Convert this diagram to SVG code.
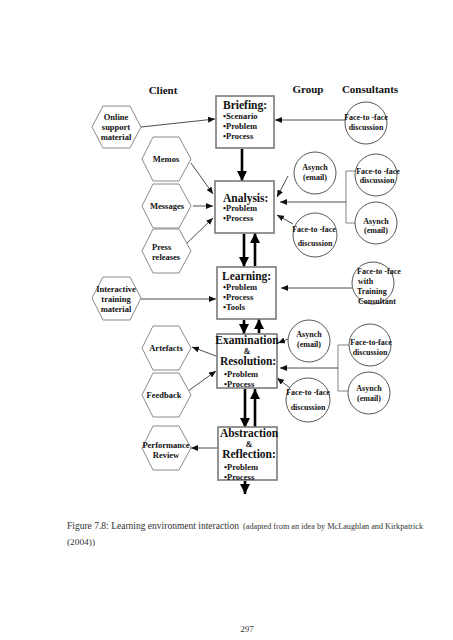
<svg xmlns="http://www.w3.org/2000/svg" width="453" height="640" viewBox="0 0 453 640">
<style>
.bg{fill:#fff}
.hex{fill:#fff;stroke:#8a8a8a;stroke-width:1}
.box{fill:#fff;stroke:#7a7a7a;stroke-width:1.6}
.cir{fill:#fff;stroke:#444;stroke-width:0.9}
.t{font-family:"Liberation Serif","Times New Roman",serif;font-weight:bold;fill:#111}
.h{font-size:11px}
.ht{font-size:8.5px}
.ct{font-size:8px}
.bt{font-size:11.5px}
.it{font-size:8.5px}
.amp{font-size:8px}
.mid{text-anchor:middle}
.thin{stroke:#222;stroke-width:0.8;fill:none}
.thick{stroke:#000;stroke-width:2.6;fill:none}
.br{stroke:#666;stroke-width:0.8;fill:none}
.cap{font-family:"Liberation Serif","Times New Roman",serif;fill:#333}
</style>
<defs>
<marker id="a" markerUnits="userSpaceOnUse" markerWidth="7" markerHeight="6" refX="7" refY="3" orient="auto"><path d="M0,0 L7,3 L0,6 z" fill="#111"/></marker>
<marker id="A" markerUnits="userSpaceOnUse" markerWidth="10" markerHeight="10" refX="10" refY="5" orient="auto"><path d="M0,0 L10,5 L0,10 z" fill="#000"/></marker>
</defs>
<rect class="bg" x="0" y="0" width="453" height="640"/>

<g id="headers">
<text class="t h mid" x="163" y="94">Client</text>
<text class="t h mid" x="308" y="93">Group</text>
<text class="t h mid" x="370" y="93">Consultants</text>
</g>

<g id="connectors">
<line class="thin" x1="141" y1="127" x2="215" y2="119" marker-end="url(#a)"/>
<line class="thin" x1="345" y1="120" x2="275" y2="120" marker-end="url(#a)"/>
<line class="thin" x1="191" y1="163" x2="213" y2="194" marker-end="url(#a)"/>
<line class="thin" x1="193" y1="206" x2="213" y2="206" marker-end="url(#a)"/>
<line class="thin" x1="186" y1="244" x2="213" y2="218" marker-end="url(#a)"/>
<line class="thin" x1="288" y1="176" x2="277" y2="197" marker-end="url(#a)"/>
<polyline class="br" points="356,171 346,171 346,223 355,223"/>
<line class="thin" x1="346" y1="202" x2="280" y2="202" marker-end="url(#a)"/>
<line class="thin" x1="293" y1="224" x2="277" y2="215" marker-end="url(#a)"/>
<line class="thin" x1="352" y1="288" x2="281" y2="288" marker-end="url(#a)"/>
<line class="thin" x1="141" y1="299" x2="216" y2="299" marker-end="url(#a)"/>
<line class="thin" x1="216" y1="356" x2="192" y2="347" marker-end="url(#a)"/>
<line class="thin" x1="188" y1="391" x2="216" y2="371" marker-end="url(#a)"/>
<line class="thin" x1="288" y1="339" x2="278" y2="343" marker-end="url(#a)"/>
<polyline class="br" points="349,345 338,345 338,391 348,391"/>
<line class="thin" x1="338" y1="368" x2="280" y2="368" marker-end="url(#a)"/>
<line class="thin" x1="290" y1="388" x2="277" y2="378" marker-end="url(#a)"/>
<line class="thin" x1="218" y1="448" x2="191" y2="448" marker-end="url(#a)"/>
<line class="thick" x1="242" y1="149" x2="242" y2="181" marker-end="url(#A)"/>
<line class="thick" x1="244" y1="234" x2="244" y2="267" marker-end="url(#A)"/>
<line class="thick" x1="255" y1="266" x2="255" y2="233" marker-end="url(#A)"/>
<line class="thick" x1="244" y1="320" x2="244" y2="334" marker-end="url(#A)"/>
<line class="thick" x1="259" y1="333" x2="259" y2="319" marker-end="url(#A)"/>
<line class="thick" x1="245" y1="389" x2="245" y2="428" marker-end="url(#A)"/>
<line class="thick" x1="255" y1="427" x2="255" y2="389" marker-end="url(#A)"/>
<line class="thick" x1="245" y1="481" x2="245" y2="494" marker-end="url(#A)"/>
</g>

<g id="online-support">
<polygon class="hex" points="92,127 103,106 130,106 141,127 130,148 103,148"/>
<text class="t ht mid" x="116" y="120">Online</text>
<text class="t ht mid" x="116" y="130">support</text>
<text class="t ht mid" x="116" y="140">material</text>
</g>
<g id="memos">
<polygon class="hex" points="142,159 153,137 179,137 191,159 179,181 153,181"/>
<text class="t ht mid" x="166" y="162">Memos</text>
</g>
<g id="messages">
<polygon class="hex" points="142,206 153,184 179,184 191,206 179,228 153,228"/>
<text class="t ht mid" x="167" y="209">Messages</text>
</g>
<g id="press-releases">
<polygon class="hex" points="142,251 153,229 179,229 191,251 179,273 153,273"/>
<text class="t ht" x="152" y="250">Press</text>
<text class="t ht" x="152" y="260">releases</text>
</g>
<g id="interactive-training">
<polygon class="hex" points="92,298 103,277 130,277 141,298 130,320 103,320"/>
<text class="t ht mid" x="116" y="292">Interactive</text>
<text class="t ht mid" x="116" y="302">training</text>
<text class="t ht mid" x="116" y="312">material</text>
</g>
<g id="artefacts">
<polygon class="hex" points="142,348 153,326 179,326 191,348 179,370 153,370"/>
<text class="t ht mid" x="166" y="351">Artefacts</text>
</g>
<g id="feedback">
<polygon class="hex" points="142,395 153,373 179,373 191,395 179,417 153,417"/>
<text class="t ht mid" x="164" y="398">Feedback</text>
</g>
<g id="performance-review">
<polygon class="hex" points="142,448 153,426 179,426 191,448 179,470 153,470"/>
<text class="t ht mid" x="166" y="448">Performance</text>
<text class="t ht mid" x="166" y="458">Review</text>
</g>

<g id="briefing">
<rect class="box" x="216" y="96" width="58" height="52"/>
<text class="t bt" x="223" y="109">Briefing:</text>
<text class="t it" x="223" y="119">•Scenario</text>
<text class="t it" x="223" y="129">•Problem</text>
<text class="t it" x="223" y="139">•Process</text>
</g>
<g id="analysis">
<rect class="box" x="215" y="181" width="59" height="52"/>
<text class="t bt" x="223" y="202">Analysis:</text>
<text class="t it" x="223" y="211">•Problem</text>
<text class="t it" x="223" y="221">•Process</text>
</g>
<g id="learning">
<rect class="box" x="217" y="267" width="59" height="52"/>
<text class="t bt" x="222" y="280">Learning:</text>
<text class="t it" x="223" y="290">•Problem</text>
<text class="t it" x="223" y="300">•Process</text>
<text class="t it" x="223" y="310">•Tools</text>
</g>
<g id="examination">
<rect class="box" x="217" y="334" width="60" height="54"/>
<text class="t bt mid" x="247" y="344">Examination</text>
<text class="t amp mid" x="247" y="354">&amp;</text>
<text class="t bt mid" x="248" y="365">Resolution:</text>
<text class="t it" x="224" y="377">•Problem</text>
<text class="t it" x="224" y="387">•Process</text>
</g>
<g id="abstraction">
<rect class="box" x="218" y="427" width="59" height="53"/>
<text class="t bt mid" x="249" y="437">Abstraction</text>
<text class="t amp mid" x="249" y="447">&amp;</text>
<text class="t bt mid" x="249" y="458">Reflection:</text>
<text class="t it" x="224" y="470">•Problem</text>
<text class="t it" x="224" y="480">•Process</text>
</g>

<g id="consultant-f2f-briefing">
<circle class="cir" cx="366" cy="123" r="21"/>
<text class="t ct mid" x="366" y="120">Face-to -face</text>
<text class="t ct mid" x="366" y="130">discussion</text>
</g>
<g id="group-asynch-analysis">
<circle class="cir" cx="315" cy="173" r="21"/>
<text class="t ct mid" x="315" y="170">Asynch</text>
<text class="t ct mid" x="315" y="180">(email)</text>
</g>
<g id="consultant-f2f-analysis">
<circle class="cir" cx="376" cy="175" r="21"/>
<text class="t ct mid" x="378" y="174">Face-to -face</text>
<text class="t ct mid" x="377" y="183">discussion</text>
</g>
<g id="consultant-asynch-analysis">
<circle class="cir" cx="376" cy="223" r="21"/>
<text class="t ct mid" x="376" y="224">Asynch</text>
<text class="t ct mid" x="376" y="233">(email)</text>
</g>
<g id="group-f2f-analysis">
<circle class="cir" cx="315" cy="235" r="22"/>
<text class="t ct mid" x="314" y="232">Face-to -face</text>
<text class="t ct mid" x="315" y="246">discussion</text>
</g>
<g id="training-consultant">
<circle class="cir" cx="373" cy="283" r="21"/>
<text class="t ct" x="357" y="274">Face-to -face</text>
<text class="t ct" x="358" y="284">with</text>
<text class="t ct" x="357" y="294">Training</text>
<text class="t ct" x="358" y="304">Consultant</text>
</g>
<g id="group-asynch-exam">
<circle class="cir" cx="309" cy="341" r="21"/>
<text class="t ct mid" x="309" y="337">Asynch</text>
<text class="t ct mid" x="309" y="347">(email)</text>
</g>
<g id="consultant-f2f-exam">
<circle class="cir" cx="370" cy="345" r="21"/>
<text class="t ct mid" x="371" y="345">Face-to-face</text>
<text class="t ct mid" x="370" y="355">discussion</text>
</g>
<g id="consultant-asynch-exam">
<circle class="cir" cx="369" cy="393" r="21"/>
<text class="t ct mid" x="369" y="391">Asynch</text>
<text class="t ct mid" x="369" y="401">(email)</text>
</g>
<g id="group-f2f-exam">
<circle class="cir" cx="308" cy="400" r="22"/>
<text class="t ct mid" x="308" y="395">Face-to -face</text>
<text class="t ct mid" x="308" y="410">discussion</text>
</g>

<g id="caption">
<text class="cap" x="67" y="529" font-size="10" textLength="172" lengthAdjust="spacingAndGlyphs">Figure 7.8: Learning environment interaction</text>
<text class="cap" x="243" y="529" font-size="8.3" textLength="180" lengthAdjust="spacingAndGlyphs">(adapted from an idea by McLaughlan and Kirkpatrick</text>
<text class="cap" x="67" y="545" font-size="8.3" textLength="28" lengthAdjust="spacingAndGlyphs">(2004))</text>
<text class="cap" x="247" y="632" font-size="9" text-anchor="middle">297</text>
</g>
</svg>
